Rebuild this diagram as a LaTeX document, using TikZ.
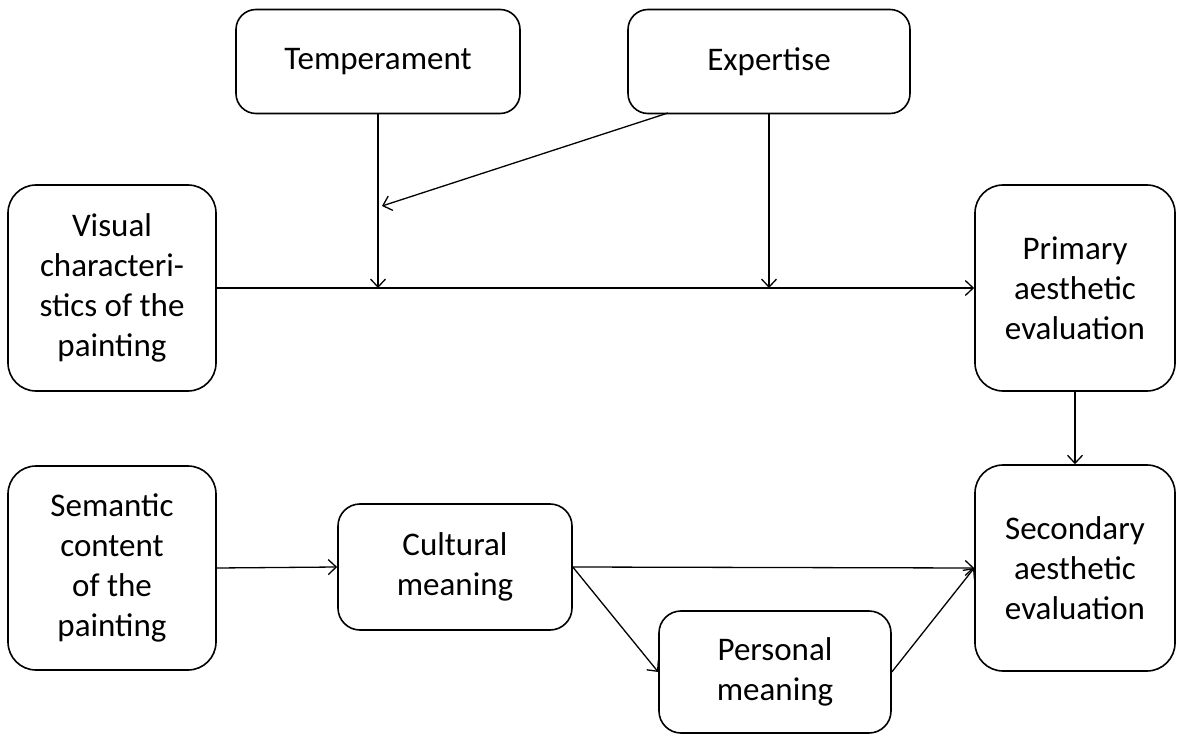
\documentclass[tikz,border=0pt]{standalone}
\usepackage{fontspec}
\setmainfont{Carlito}
\usetikzlibrary{arrows.meta}
\begin{document}
\begin{tikzpicture}[x=1pt,y=-1pt,
  box/.style={draw, line width=1.6pt, rounded corners=28pt, align=center, inner sep=0pt,
    font=\fontsize{33}{40}\selectfont},
  arr/.style={line width=1.3pt, -{Straight Barb[length=8pt,width=15pt,line width=1.3pt]}}]
\useasboundingbox (0,0) rectangle (1181,735);
\node[box, rounded corners=20pt, minimum width=284pt, minimum height=104pt] (temp) at (378,61.5) {Temperament};
\node[box, rounded corners=20pt, minimum width=282pt, minimum height=104pt] (exp) at (769,61.5) {Expertise};
\node[box, minimum width=208pt, minimum height=206pt] (vis) at (112,288) {Visual\\characteri-\\stics of the\\painting};
\node[box, minimum width=200pt, minimum height=206pt] (prim) at (1075,288) {Primary\\aesthetic\\evaluation};
\node[box, minimum width=208pt, minimum height=204pt] (sem) at (112,568) {Semantic\\content\\of the\\painting};
\node[box, rounded corners=22pt, minimum width=234pt, minimum height=126pt] (cult) at (455,567) {Cultural\\meaning};
\node[box, rounded corners=22pt, minimum width=232pt, minimum height=122pt] (pers) at (775,672) {Personal\\meaning};
\node[box, minimum width=200pt, minimum height=206pt] (sec) at (1075,568) {Secondary\\aesthetic\\evaluation};
\coordinate (j1) at (378,288);
\coordinate (j2) at (769,288);
\coordinate (j3) at (382,206);
\coordinate (e1) at (668,113);
\draw[arr] (vis.east) -- (prim.west);
\draw[arr] (temp.south) -- (j1);
\draw[arr] (exp.south) -- (j2);
\draw[arr] (e1) -- (j3);
\draw[arr] (prim.south) -- (sec.north);
\draw[arr] (sem.east) -- (cult.west);
\draw[arr] (cult.east) -- (sec.west);
\draw[arr] (cult.east) -- (pers.west);
\draw[arr] (pers.east) -- (sec.west);
\end{tikzpicture}
\end{document}
